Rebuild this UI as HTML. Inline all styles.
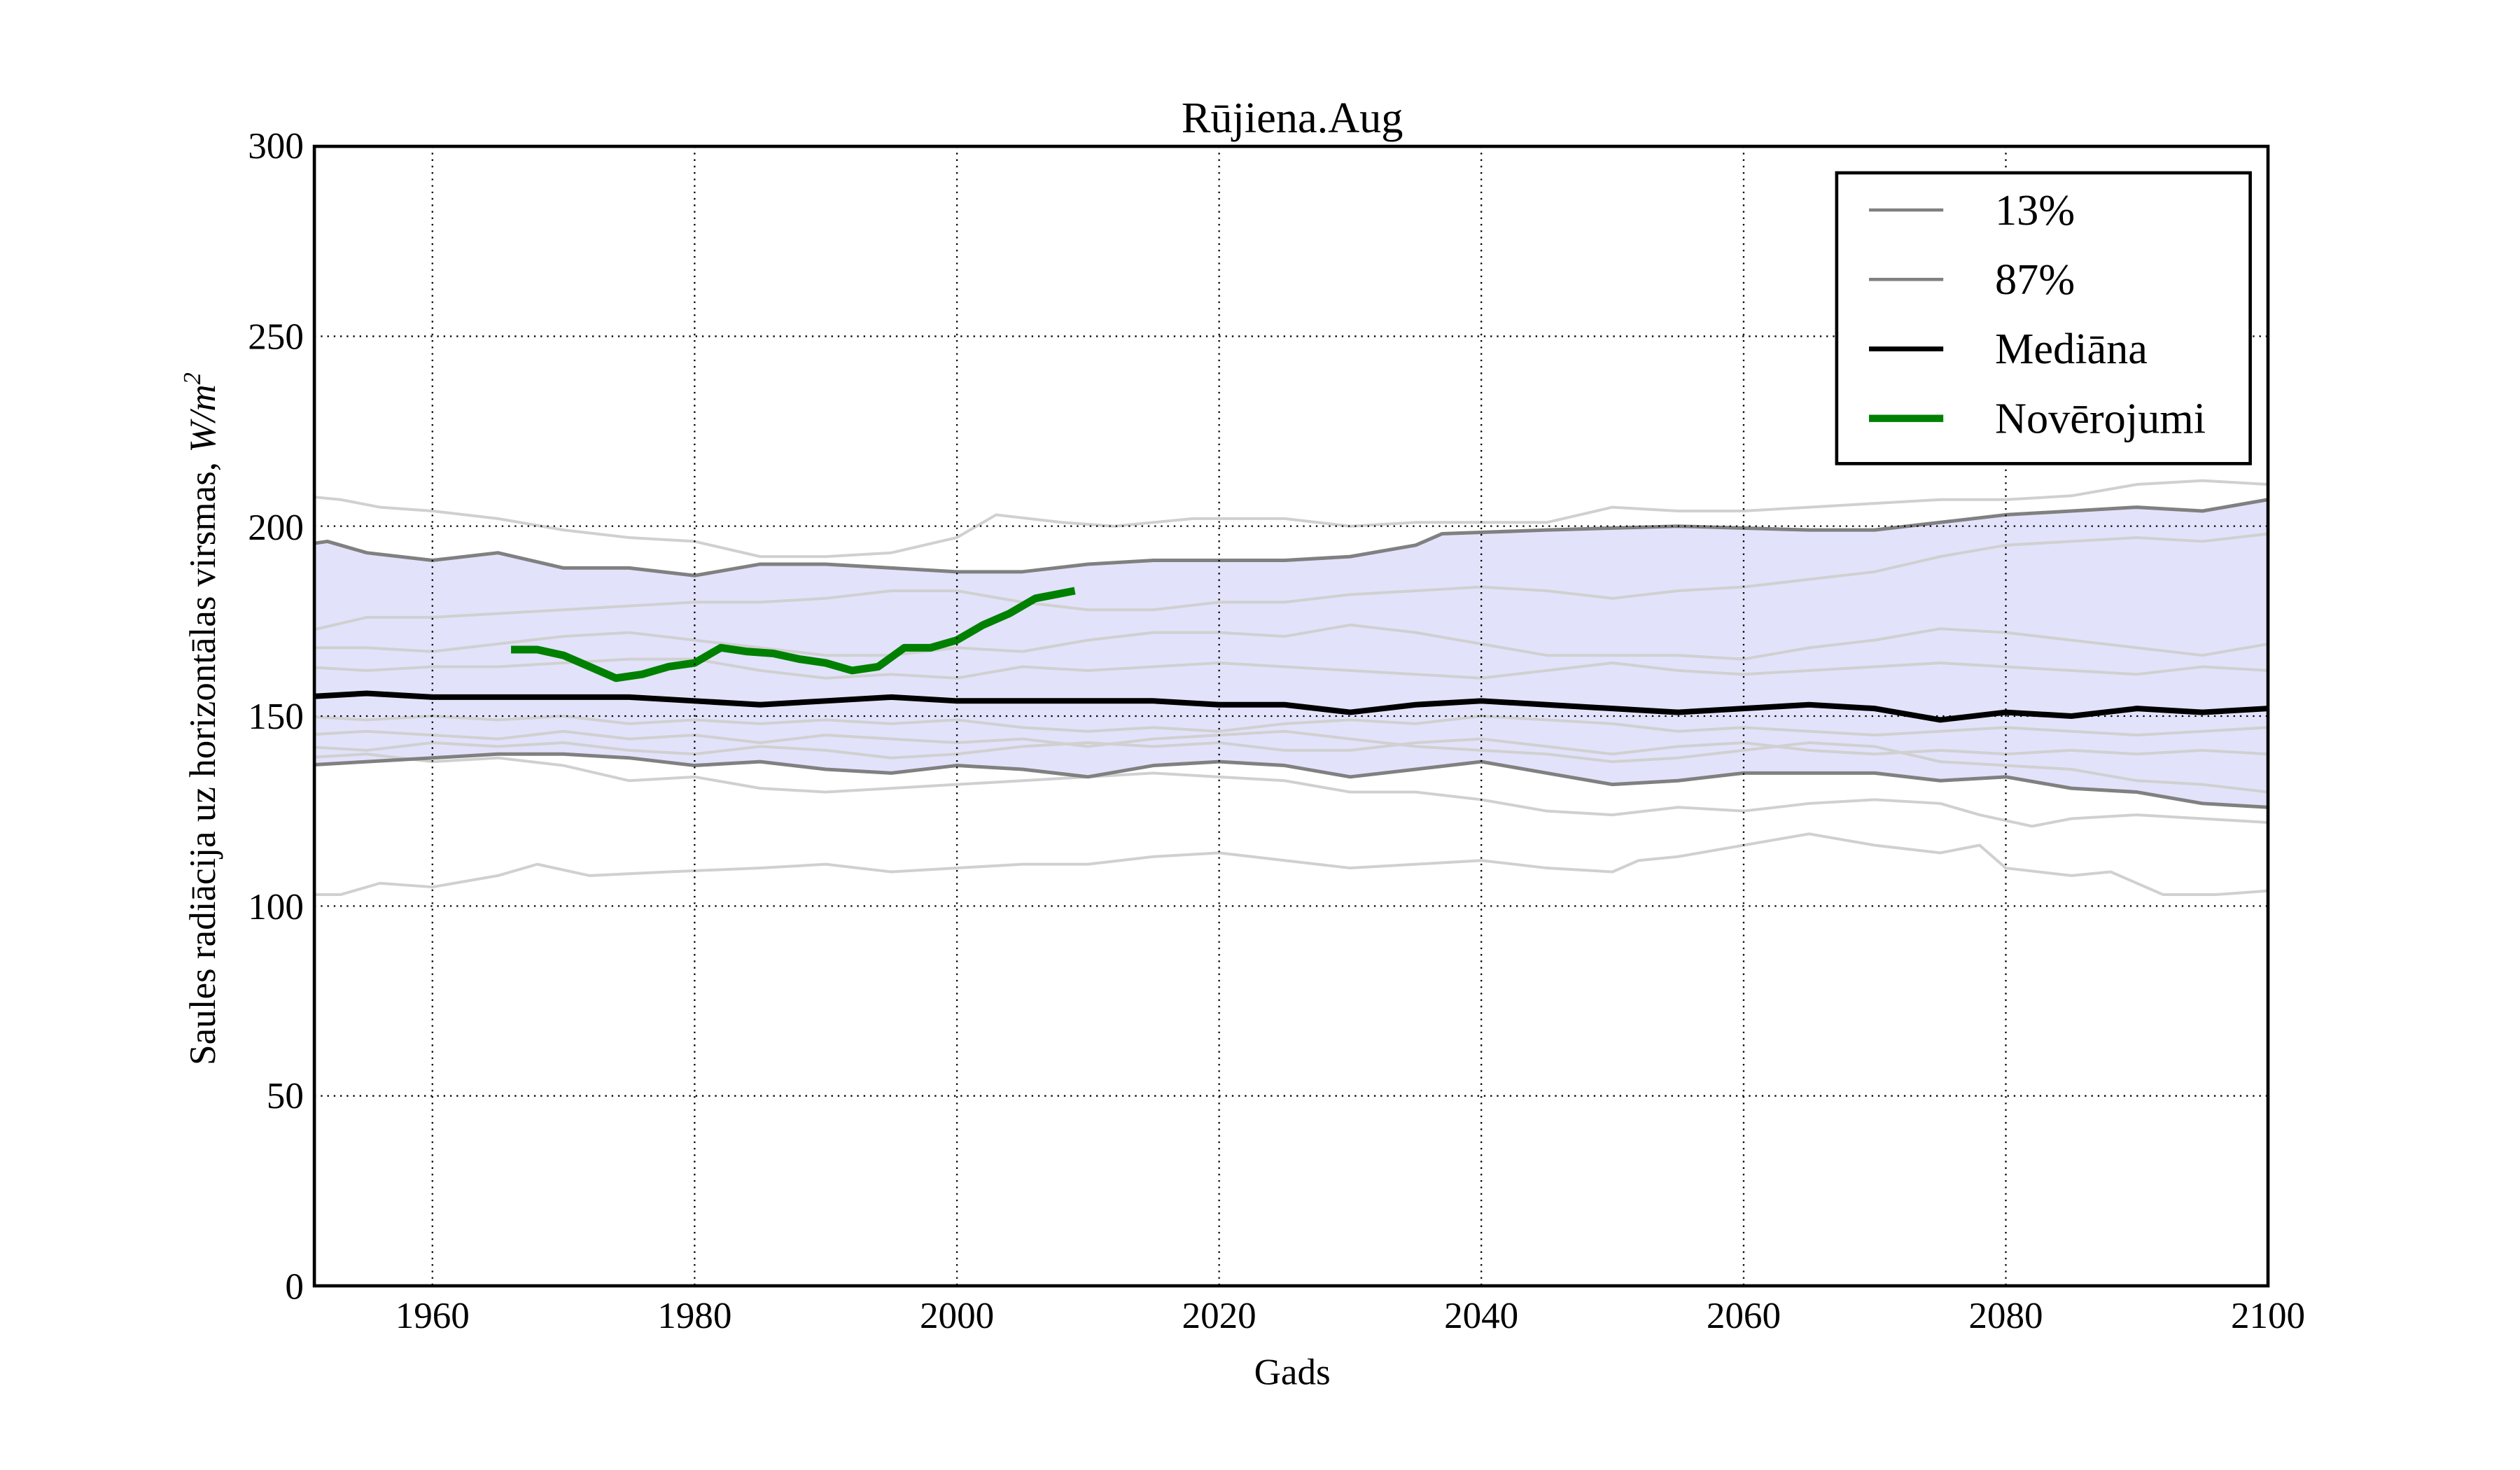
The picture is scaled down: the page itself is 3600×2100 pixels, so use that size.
<!DOCTYPE html>
<html><head><meta charset="utf-8"><style>html,body{margin:0;padding:0;background:#fff}svg{display:block}</style></head>
<body>
<svg width="3600" height="2100" viewBox="0 0 1560 910" xmlns="http://www.w3.org/2000/svg" font-family="Liberation Serif, serif">
<defs><clipPath id="c"><rect x="194.6" y="90.6" width="1209.4" height="705.4"/></clipPath></defs>
<rect width="1560" height="910" fill="#fff"/>
<g clip-path="url(#c)">
<g transform="translate(194.6,796) scale(8.117,-2.3513) translate(-1951,0)" fill="none" stroke-linejoin="round">
<polygon fill="#e2e2fb" stroke="none" points="1950,195 1952,196 1955,193 1960,191 1965,193 1970,189 1975,189 1980,187 1985,190 1990,190 1995,189 2000,188 2005,188 2010,190 2015,191 2020,191 2025,191 2030,192 2035,195 2037,198 2045,199 2055,200 2065,199 2070,199 2075,201 2080,203 2090,205 2095,204 2100,207 2100,126 2095,127 2090,130 2085,131 2080,134 2075,133 2070,135 2065,135 2060,135 2055,133 2050,132 2045,135 2040,138 2035,136 2030,134 2025,137 2020,138 2015,137 2010,134 2005,136 2000,137 1995,135 1990,136 1985,138 1980,137 1975,139 1970,140 1965,140 1960,139 1955,138 1950,137"/>
<g stroke="#d0d0d0" stroke-width="4">
<polyline vector-effect="non-scaling-stroke" points="1950,208 1953,207 1956,205 1960,204 1965,202 1970,199 1975,197 1980,196 1985,192 1990,192 1995,193 2000,197 2003,203 2008,201 2012,200 2018,202 2025,202 2030,200 2035,201 2040,201 2045,201 2050,205 2055,204 2060,204 2065,205 2070,206 2075,207 2080,207 2085,208 2090,211 2095,212 2100,211"/>
<polyline vector-effect="non-scaling-stroke" points="1950,103 1953,103 1956,106 1960,105 1965,108 1968,111 1972,108 1978,109 1985,110 1990,111 1995,109 2000,110 2005,111 2010,111 2015,113 2020,114 2025,112 2030,110 2035,111 2040,112 2045,110 2050,109 2052,112 2055,113 2060,116 2065,119 2070,116 2075,114 2078,116 2080,110 2085,108 2088,109 2092,103 2096,103 2100,104"/>
<polyline vector-effect="non-scaling-stroke" points="1950,172 1955,176 1960,176 1965,177 1970,178 1975,179 1980,180 1985,180 1990,181 1995,183 2000,183 2005,180 2010,178 2015,178 2020,180 2025,180 2030,182 2035,183 2040,184 2045,183 2050,181 2055,183 2060,184 2065,186 2070,188 2075,192 2080,195 2085,196 2090,197 2095,196 2100,198"/>
<polyline vector-effect="non-scaling-stroke" points="1950,168 1955,168 1960,167 1965,169 1970,171 1975,172 1980,170 1985,168 1990,166 1995,166 2000,168 2005,167 2010,170 2015,172 2020,172 2025,171 2030,174 2035,172 2040,169 2045,166 2050,166 2055,166 2060,165 2065,168 2070,170 2075,173 2080,172 2085,170 2090,168 2095,166 2100,169"/>
<polyline vector-effect="non-scaling-stroke" points="1950,163 1955,162 1960,163 1965,163 1970,164 1975,165 1980,165 1985,162 1990,160 1995,161 2000,160 2005,163 2010,162 2015,163 2020,164 2025,163 2030,162 2035,161 2040,160 2045,162 2050,164 2055,162 2060,161 2065,162 2070,163 2075,164 2080,163 2085,162 2090,161 2095,163 2100,162"/>
<polyline vector-effect="non-scaling-stroke" points="1950,150 1955,149 1960,150 1965,149 1970,150 1975,148 1980,149 1985,148 1990,149 1995,148 2000,149 2005,147 2010,146 2015,147 2020,146 2025,148 2030,149 2035,148 2040,150 2045,149 2050,148 2055,146 2060,147 2065,146 2070,145 2075,146 2080,147 2085,146 2090,145 2095,146 2100,147"/>
<polyline vector-effect="non-scaling-stroke" points="1950,142 1955,141 1960,143 1965,142 1970,143 1975,141 1980,140 1985,142 1990,141 1995,139 2000,140 2005,142 2010,143 2015,142 2020,143 2025,141 2030,141 2035,143 2040,144 2045,142 2050,140 2055,142 2060,143 2065,141 2070,140 2075,141 2080,140 2085,141 2090,140 2095,141 2100,140"/>
<polyline vector-effect="non-scaling-stroke" points="1950,139 1955,140 1960,138 1965,139 1970,137 1975,133 1980,134 1985,131 1990,130 1995,131 2000,132 2005,133 2010,134 2015,135 2020,134 2025,133 2030,130 2035,130 2040,128 2045,125 2050,124 2055,126 2060,125 2065,127 2070,128 2075,127 2078,124 2082,121 2085,123 2090,124 2095,123 2100,122"/>
<polyline vector-effect="non-scaling-stroke" points="1950,145 1955,146 1960,145 1965,144 1970,146 1975,144 1980,145 1985,143 1990,145 1995,144 2000,143 2005,144 2010,142 2015,144 2020,145 2025,146 2030,144 2035,142 2040,141 2045,140 2050,138 2055,139 2060,141 2065,143 2070,142 2075,138 2080,137 2085,136 2090,133 2095,132 2100,130"/>
</g>
<polyline vector-effect="non-scaling-stroke" stroke="#808080" stroke-width="5" points="1950,195 1952,196 1955,193 1960,191 1965,193 1970,189 1975,189 1980,187 1985,190 1990,190 1995,189 2000,188 2005,188 2010,190 2015,191 2020,191 2025,191 2030,192 2035,195 2037,198 2045,199 2055,200 2065,199 2070,199 2075,201 2080,203 2090,205 2095,204 2100,207"/>
<polyline vector-effect="non-scaling-stroke" stroke="#808080" stroke-width="5" points="1950,137 1955,138 1960,139 1965,140 1970,140 1975,139 1980,137 1985,138 1990,136 1995,135 2000,137 2005,136 2010,134 2015,137 2020,138 2025,137 2030,134 2035,136 2040,138 2045,135 2050,132 2055,133 2060,135 2065,135 2070,135 2075,133 2080,134 2085,131 2090,130 2095,127 2100,126"/>
<polyline vector-effect="non-scaling-stroke" stroke="#000" stroke-width="8" points="1950,155 1955,156 1960,155 1965,155 1970,155 1975,155 1980,154 1985,153 1990,154 1995,155 2000,154 2005,154 2010,154 2015,154 2020,153 2025,153 2030,151 2035,153 2040,154 2045,153 2050,152 2055,151 2060,152 2065,153 2070,152 2075,149 2080,151 2085,150 2090,152 2095,151 2100,152"/>
<polyline vector-effect="non-scaling-stroke" stroke="#008000" stroke-width="11" points="1966,167.5 1968,167.5 1970,166 1972,163 1974,160 1976,161 1978,163 1980,164 1982,168 1984,167 1986,166.5 1988,165 1990,164 1992,162 1994,163 1996,168 1998,168 2000,170 2002,174 2004,177 2006,181 2009,183"/>
</g>
</g>
<g stroke="#000" stroke-width="1" stroke-dasharray="1,3">
<line x1="267.7" y1="90.6" x2="267.7" y2="796"/><line x1="430" y1="90.6" x2="430" y2="796"/><line x1="592.4" y1="90.6" x2="592.4" y2="796"/><line x1="754.7" y1="90.6" x2="754.7" y2="796"/><line x1="917" y1="90.6" x2="917" y2="796"/><line x1="1079.4" y1="90.6" x2="1079.4" y2="796"/><line x1="1241.7" y1="90.6" x2="1241.7" y2="796"/>
<line x1="194.6" y1="678.4" x2="1404" y2="678.4"/><line x1="194.6" y1="560.9" x2="1404" y2="560.9"/><line x1="194.6" y1="443.3" x2="1404" y2="443.3"/><line x1="194.6" y1="325.7" x2="1404" y2="325.7"/><line x1="194.6" y1="208.2" x2="1404" y2="208.2"/>
</g>
<rect x="194.6" y="90.6" width="1209.4" height="705.4" fill="none" stroke="#000" stroke-width="2"/>
<g font-size="23" fill="#000" text-anchor="middle">
<text x="267.7" y="822">1960</text><text x="430" y="822">1980</text><text x="592.4" y="822">2000</text><text x="754.7" y="822">2020</text><text x="917" y="822">2040</text><text x="1079.4" y="822">2060</text><text x="1241.7" y="822">2080</text><text x="1404" y="822">2100</text>
</g>
<g font-size="23" fill="#000" text-anchor="end">
<text x="188" y="804">0</text><text x="188" y="686">50</text><text x="188" y="569">100</text><text x="188" y="451">150</text><text x="188" y="334">200</text><text x="188" y="216">250</text><text x="188" y="98">300</text>
</g>
<text x="800" y="82" font-size="27" text-anchor="middle">Rūjiena.Aug</text>
<text x="800" y="857" font-size="23" text-anchor="middle">Gads</text>
<text transform="translate(133,445) rotate(-90)" font-size="23" text-anchor="middle">Saules radiācija uz horizontālas virsmas, <tspan font-style="italic">W/m</tspan><tspan font-style="italic" font-size="15" dy="-9">2</tspan></text>
<rect x="1137" y="107" width="256" height="180" fill="#fff" stroke="#000" stroke-width="2"/>
<line x1="1157" y1="130" x2="1203" y2="130" stroke="#808080" stroke-width="2"/>
<line x1="1157" y1="173" x2="1203" y2="173" stroke="#808080" stroke-width="2"/>
<line x1="1157" y1="216" x2="1203" y2="216" stroke="#000" stroke-width="3"/>
<line x1="1157" y1="259" x2="1203" y2="259" stroke="#008000" stroke-width="4.5"/>
<g font-size="27" fill="#000">
<text x="1235" y="139">13%</text><text x="1235" y="182">87%</text><text x="1235" y="225">Mediāna</text><text x="1235" y="268">Novērojumi</text>
</g>
</svg>
</body></html>
